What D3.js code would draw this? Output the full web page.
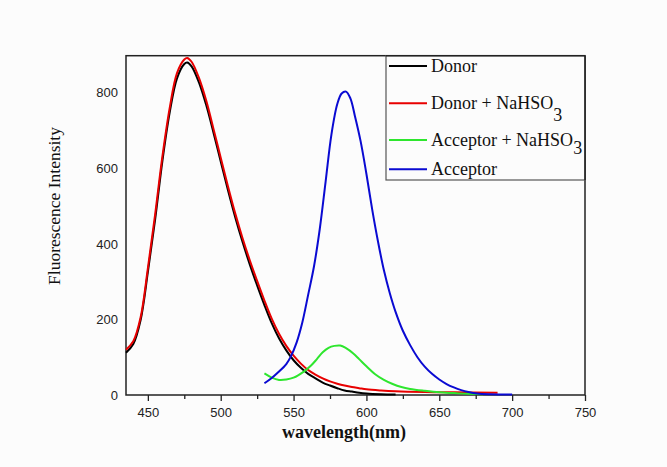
<!DOCTYPE html>
<html>
<head>
<meta charset="utf-8">
<script src="https://cdn.jsdelivr.net/npm/d3@7"></script>
<style>
  html, body { margin: 0; padding: 0; background: #fcfcfc; }
  svg { display: block; }
</style>
</head>
<body>
<svg id="chart" width="667" height="467"></svg>
<script>
// ---------- data ----------
const xMajorTicks = [450, 500, 550, 600, 650, 700, 750];
const xMinorTicks = [475, 525, 575, 625, 675, 725];
const yTicks = [0, 200, 400, 600, 800];

const donorX = [435, 440, 445, 450, 455, 460, 465, 470, 475, 477, 480, 485, 490, 495, 500, 505, 510, 515, 520, 525, 530, 535, 540, 545, 550, 555, 560, 565, 570, 575, 580, 585, 590, 595, 600, 610, 620];
const donorY = [112, 135, 198, 325, 465, 620, 748, 838, 876, 880, 870, 828, 768, 695, 618, 542, 470, 405, 345, 290, 238, 190, 150, 118, 92, 72, 56, 44, 33, 25, 18, 12, 9, 6, 4, 2, 1];

const donorNaX = [435, 440, 445, 450, 455, 460, 465, 470, 475, 477, 480, 485, 490, 495, 500, 505, 510, 515, 520, 525, 530, 535, 540, 545, 550, 555, 560, 565, 570, 575, 580, 585, 590, 595, 600, 610, 620, 640, 660, 690];
const donorNaY = [120, 142, 205, 335, 478, 632, 760, 852, 888, 892, 882, 840, 780, 705, 628, 552, 480, 415, 356, 302, 250, 202, 162, 130, 104, 83, 66, 54, 44, 36, 30, 25, 21, 18, 15, 12, 10, 8, 7, 6];

const accNaX = [530, 535, 540, 545, 550, 557, 562, 566, 570, 574, 578, 582, 586, 591, 595, 600, 606, 612, 618, 624, 630, 640, 650, 660, 670, 680];
const accNaY = [57, 46, 40, 41, 46, 62, 78, 95, 113, 125, 130, 131, 124, 110, 95, 76, 55, 40, 29, 21, 16, 11, 7, 5, 3, 2];

const accX = [530, 535, 540, 545, 548, 552, 556, 560, 564, 568, 572, 576, 580, 583, 586, 589, 592, 596, 600, 604, 608, 612, 616, 620, 625, 630, 635, 640, 645, 650, 655, 660, 665, 670, 676, 685, 700];
const accY = [31, 45, 62, 82, 101, 138, 192, 265, 340, 440, 565, 690, 770, 798, 803, 785, 740, 672, 585, 490, 405, 330, 270, 220, 170, 132, 100, 75, 56, 41, 29, 20, 13, 8, 4, 2, 1];

const seriesNames = ["Donor", "Donor + NaHSO", "Acceptor + NaHSO", "Acceptor"];
const seriesColors = ["#000000", "#e80000", "#2ee62e", "#0a0ad2"];

// ---------- layout ----------
const svg = d3.select("#chart");
const pLeft = 126, pRight = 585, pTop = 55.7, pBottom = 395;

const x = d3.scaleLinear().domain([435, 750]).range([pLeft, pRight]);
const y = d3.scaleLinear().domain([0, 898]).range([pBottom, pTop]);

// frame
svg.append("rect")
  .attr("x", pLeft).attr("y", pTop)
  .attr("width", pRight - pLeft).attr("height", pBottom - pTop)
  .attr("fill", "none").attr("stroke", "#222").attr("stroke-width", 1.5);

// bottom axis
const xAxis = svg.append("g").attr("transform", `translate(0,${pBottom})`)
  .call(d3.axisBottom(x).tickValues(xMajorTicks).tickSize(6).tickPadding(7).tickFormat(d3.format("d")));
xAxis.select(".domain").remove();
xAxis.selectAll("line").attr("stroke", "#222").attr("stroke-width", 1.3);
xAxis.selectAll("text").attr("font-family", "Liberation Sans, Arial, sans-serif").attr("font-size", 13).attr("fill", "#222");

const xMinor = svg.append("g").attr("transform", `translate(0,${pBottom})`)
  .call(d3.axisBottom(x).tickValues(xMinorTicks).tickSize(4).tickFormat(""));
xMinor.select(".domain").remove();
xMinor.selectAll("line").attr("stroke", "#222").attr("stroke-width", 1.3);

// left axis
const yAxis = svg.append("g").attr("transform", `translate(${pLeft},0)`)
  .call(d3.axisLeft(y).tickValues(yTicks).tickSize(0).tickPadding(8).tickFormat(d3.format("d")));
yAxis.select(".domain").remove();
yAxis.selectAll("text").attr("font-family", "Liberation Sans, Arial, sans-serif").attr("font-size", 13).attr("fill", "#222");

// axis titles
svg.append("text")
  .attr("x", 344).attr("y", 438)
  .attr("text-anchor", "middle")
  .attr("font-family", "Liberation Serif, Times New Roman, serif")
  .attr("font-size", 18).attr("font-weight", "bold").attr("fill", "#111")
  .text("wavelength(nm)");

svg.append("text")
  .attr("transform", "translate(60,206) rotate(-90)")
  .attr("text-anchor", "middle")
  .attr("font-family", "Liberation Serif, Times New Roman, serif")
  .attr("font-size", 17.5).attr("fill", "#111")
  .text("Fluorescence Intensity");

// curves
const line = d3.line().x(d => x(d[0])).y(d => y(d[1])).curve(d3.curveCatmullRom.alpha(0.5));
const seriesData = [
  d3.zip(donorX, donorY),
  d3.zip(donorNaX, donorNaY),
  d3.zip(accNaX, accNaY),
  d3.zip(accX, accY)
];
seriesData.forEach((data, i) => {
  svg.append("path")
    .datum(data)
    .attr("d", line)
    .attr("fill", "none")
    .attr("stroke", seriesColors[i])
    .attr("stroke-width", 2)
    .attr("stroke-linejoin", "round");
});

// legend
const legX = 386, legBottom = 180;
svg.append("rect")
  .attr("x", legX).attr("y", pTop)
  .attr("width", pRight - legX).attr("height", legBottom - pTop)
  .attr("fill", "#fcfcfc").attr("stroke", "#555").attr("stroke-width", 1.2);
svg.append("line").attr("x1", pRight).attr("x2", pRight).attr("y1", pTop).attr("y2", legBottom)
  .attr("stroke", "#222").attr("stroke-width", 1.5);
svg.append("line").attr("x1", legX).attr("x2", pRight).attr("y1", pTop).attr("y2", pTop)
  .attr("stroke", "#222").attr("stroke-width", 1.5);

const legYs = [66, 103.3, 140, 169.3];
seriesNames.forEach((name, i) => {
  svg.append("line")
    .attr("x1", 389).attr("x2", 427)
    .attr("y1", legYs[i]).attr("y2", legYs[i])
    .attr("stroke", seriesColors[i]).attr("stroke-width", 2);
  const t = svg.append("text")
    .attr("x", 431).attr("y", legYs[i] + 6)
    .attr("font-family", "Liberation Serif, Times New Roman, serif")
    .attr("font-size", 18).attr("fill", "#111");
  t.append("tspan").text(name);
  if (i === 1) t.append("tspan").attr("dy", 12).text("3");
  if (i === 2) t.append("tspan").attr("dy", 8).text("3");
});
</script>
</body>
</html>
